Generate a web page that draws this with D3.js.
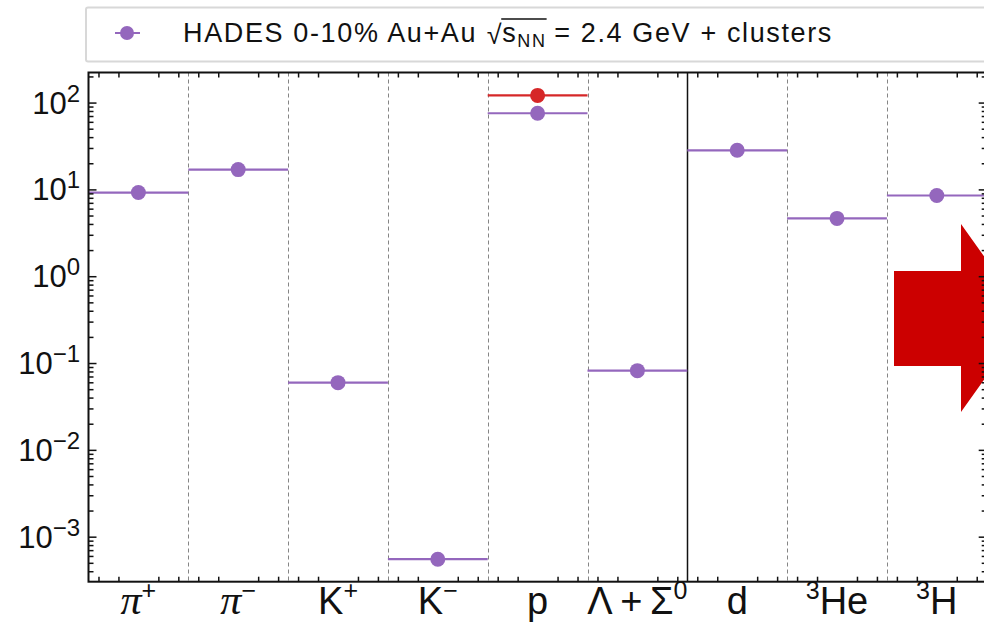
<!DOCTYPE html>
<html><head><meta charset="utf-8">
<script src="https://cdn.jsdelivr.net/npm/d3@7"></script>
<style>
html,body{margin:0;padding:0;background:#fff;}
svg text{font-family:"Liberation Sans",Arial,sans-serif;fill:#111;}
</style></head>
<body><svg id="c" width="984" height="628"></svg>
<script>
// ---- data ----
const categories = ["pi+", "pi-", "K+", "K-", "p", "Lambda+Sigma0", "d", "3He", "3H"];
// label parts: [text, "b" base | "s" superscript, greek-math?]
const categoryLabels = [
  [["π","b",1],["+","s",0]],
  [["π","b",1],["−","s",0]],
  [["K","b",0],["+","s",0]],
  [["K","b",0],["−","s",0]],
  [["p","b",0]],
  [["Λ\u2009+\u2009Σ","b",0],["0","s",0]],
  [["d","b",0]],
  [["3","s",0],["He","b",0]],
  [["3","s",0],["H","b",0]]
];
const hadesYields = [9.2, 16.9, 0.0594, 0.00055, 75.3, 0.0817, 28.2, 4.63, 8.5];
const redYields = [null, null, null, null, 121, null, null, null, null];
const yTickExponents = [-3, -2, -1, 0, 1, 2];
const yDomain = [3.03e-4, 222];
const legendLabel = ["HADES 0-10% Au+Au", "s", "NN", "= 2.4 GeV + clusters"];
const purple = "#9467bd", red = "#d62728";

// ---- layout ----
const svg = d3.select("#c");
const L = 88.5, R = 986.7, T = 72.5, B = 581.7;
const x = d3.scaleBand().domain(categories).range([L, R]).padding(0);
const xl = d3.scaleLinear().domain([0, categories.length]).range([L, R]);
const y = d3.scaleLog().domain(yDomain).range([B, T]);

// legend box
svg.append("rect").attr("x",86).attr("y",7.5).attr("width",1000).attr("height",54)
  .attr("rx",2).attr("fill","#fff").attr("stroke","#d8d8d8").attr("stroke-width",2);
const lg = svg.append("g");
lg.append("line").attr("x1",115).attr("x2",140).attr("y1",33).attr("y2",33).attr("stroke",purple).attr("stroke-width",2);
lg.append("circle").attr("cx",127).attr("cy",33).attr("r",7).attr("fill",purple);
function drawLegendText(ls) {
  lg.selectAll("text,.ovl").remove();
  const fs = 27, base = 42;
  let cx = 183;
  const add = (s, size, yy) => {
    const t = lg.append("text").attr("x",cx).attr("y",yy).attr("font-size",size)
      .attr("letter-spacing", ls).text(s);
    cx += t.node().getComputedTextLength();
    return t;
  };
  add(legendLabel[0], fs, base);
  cx += 8 + ls;
  add("√", fs, base + 2);
  cx -= 1;
  const s0 = cx;
  add(legendLabel[1], fs, base);
  add(legendLabel[2], 18, base + 5);
  lg.append("line").attr("class","ovl").attr("x1",s0-1).attr("x2",cx).attr("y1",19).attr("y2",19)
    .attr("stroke","#111").attr("stroke-width",1.3);
  cx += 6 + ls;
  add(legendLabel[3], fs, base);
  return cx;
}
const w0 = drawLegendText(0) - 183;
const nch = legendLabel.join("").length + 3;
drawLegendText(Math.max(0, (650 - w0) / nch));

// separators
const g = svg.append("g");
d3.range(1, categories.length).forEach(i => {
  const xv = Math.round(xl(i)) + 0.5;
  const solid = categories[i] === "d";
  g.append("line").attr("x1",xv).attr("x2",xv).attr("y1",T).attr("y2",B)
    .attr("stroke", solid ? "#111" : "#777")
    .attr("stroke-width", solid ? 1.5 : 0.9)
    .attr("stroke-dasharray", solid ? null : "4,3");
});

// series: horizontal bars + markers
function drawSeries(vals, color) {
  const data = categories.map((c, i) => ({c, v: vals[i]})).filter(d => d.v != null);
  g.selectAll(null).data(data).enter().append("line")
    .attr("x1", d => x(d.c)).attr("x2", d => x(d.c) + x.bandwidth())
    .attr("y1", d => y(d.v)).attr("y2", d => y(d.v))
    .attr("stroke", color).attr("stroke-width", 2.2);
  g.selectAll(null).data(data).enter().append("circle")
    .attr("cx", d => x(d.c) + x.bandwidth()/2).attr("cy", d => y(d.v))
    .attr("r", 7.5).attr("fill", color);
}
drawSeries(hadesYields, purple);
drawSeries(redYields, red);

// red arrow (annotation)
svg.append("polygon")
  .attr("points", [[894,271],[961,271],[961,224],[1028,318],[961,412],[961,366],[894,366]].map(p=>p.join(",")).join(" "))
  .attr("fill","#cc0000");

// y ticks (major + minor), both sides, inward
const majors = yTickExponents.map(e => Math.pow(10, e));
const minors = [];
for (let e = -4; e <= 2; e++) for (let m = 2; m <= 9; m++) {
  const v = m * Math.pow(10, e);
  if (v >= yDomain[0] && v <= yDomain[1]) minors.push(v);
}
function yAxis(pos, gen, vals, size) {
  const a = svg.append("g").attr("transform",`translate(${pos},0)`);
  a.call(gen(y).tickValues(vals).tickSize(size).tickFormat(""));
  a.select(".domain").remove();
}
yAxis(L, d3.axisRight, majors, 8);
yAxis(L, d3.axisRight, minors, 5);
yAxis(R, d3.axisLeft, majors, 8);
yAxis(R, d3.axisLeft, minors, 5);

// y tick labels
const yl = svg.append("g");
yTickExponents.forEach(e => {
  const t = yl.append("text").attr("x",80).attr("y",y(Math.pow(10,e)) + 11)
    .attr("text-anchor","end").attr("font-size",31);
  t.append("tspan").text("10");
  t.append("tspan").attr("font-size",24).attr("dy",-12).text(e < 0 ? "−" + (-e) : String(e));
});

// x minor ticks (inward, top and bottom)
const xTicks = [];
categories.forEach((c, i) => [0.1, 0.3, 0.7, 0.9].forEach(f => xTicks.push(i + f)));
const axB = svg.append("g").attr("transform",`translate(0,${B})`);
axB.call(d3.axisTop(xl).tickValues(xTicks).tickSize(5).tickFormat(""));
axB.select(".domain").remove();
const axT = svg.append("g").attr("transform",`translate(0,${T})`);
axT.call(d3.axisBottom(xl).tickValues(xTicks).tickSize(5).tickFormat(""));
axT.select(".domain").remove();
svg.selectAll(".tick line").attr("stroke","#111").attr("stroke-width",1.5);

// x labels
const xlg = svg.append("g");
categories.forEach((c, i) => {
  const t = xlg.append("text").attr("x", x(c) + x.bandwidth()/2).attr("y", 614)
    .attr("text-anchor","middle").attr("font-size",38);
  let prev = "b";
  categoryLabels[i].forEach(([s, k, greek]) => {
    const sp = t.append("tspan").text(s);
    if (greek) sp.attr("font-style","italic").attr("font-family","'Liberation Serif','DejaVu Serif',serif").attr("font-size",42);
    if (k === "s") { sp.attr("font-size",25).attr("dy", prev === "s" ? 0 : -15); }
    else if (prev === "s") sp.attr("dy", 15);
    prev = k;
  });
});

// frame
svg.append("rect").attr("x",L).attr("y",T).attr("width",R-L).attr("height",B-T)
  .attr("fill","none").attr("stroke","#111").attr("stroke-width",2);
</script></body></html>
